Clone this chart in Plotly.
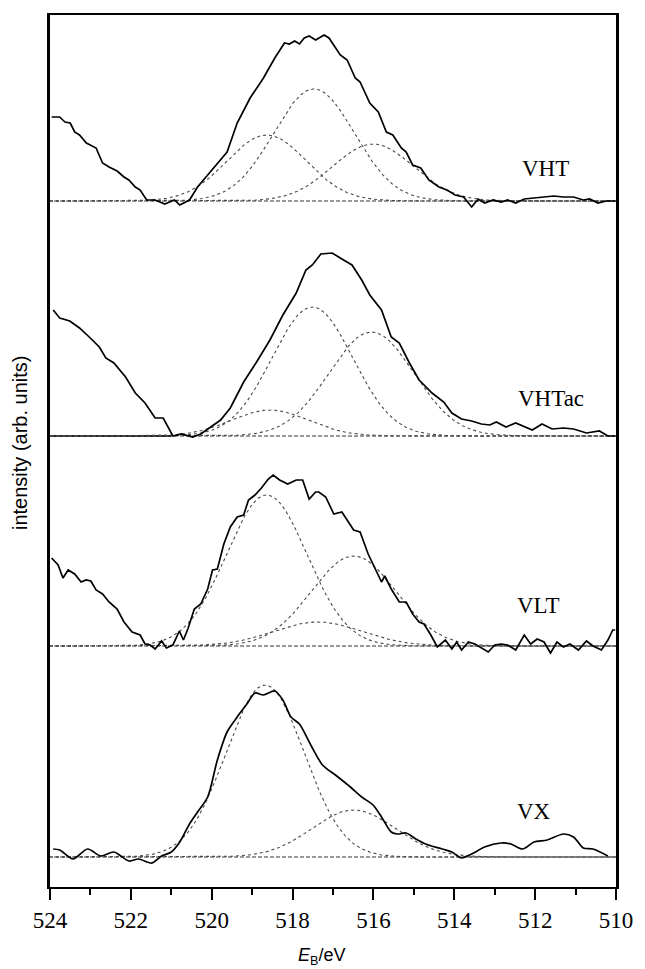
import numpy as np
import plotly.graph_objects as go

# ---------------- measured spectra (binding energy / eV, intensity above baseline, arb. units)
vht_E = [523.96, 523.76, 523.63, 523.50, 523.39, 523.27, 523.10, 522.86, 522.70, 522.54,
         522.34, 522.17, 522.05, 521.89, 521.77, 521.61, 521.40, 521.16, 520.92, 520.79,
         520.55, 520.35, 520.10, 519.86, 519.62, 519.37, 519.05, 518.72, 518.44, 518.20,
         518.08, 517.95, 517.83, 517.71, 517.59, 517.43, 517.30, 517.22, 517.10, 516.98,
         516.82, 516.65, 516.45, 516.33, 516.09, 515.88, 515.68, 515.52, 515.31, 515.19,
         515.03, 514.83, 514.63, 514.38, 514.18, 513.98, 513.77, 513.57, 513.41, 513.25,
         513.04, 512.84, 512.68, 512.48, 512.27, 512.03, 511.78, 511.54, 511.30, 511.05,
         510.81, 510.65, 510.45, 510.24, 510.02]
vht_I = [84, 84, 79, 78, 69, 66, 58, 53, 38, 34,
         30, 24, 21, 14, 11, 1, 1, -3, 1, -4,
         1, 14, 26, 38, 49, 78, 103, 123, 143, 158,
         157, 160, 157, 163, 165, 161, 164, 166, 163, 156,
         146, 141, 123, 119, 98, 89, 69, 66, 53, 49,
         36, 33, 21, 14, 11, 6, 4, -6, 2, -2,
         1, -1, 1, -2, 2, 3, 4, 5, 4, 4,
         1, 2, -2, 0, 0]

vhtac_E = [523.92, 523.76, 523.51, 523.27, 523.03, 522.78, 522.62, 522.42, 522.13, 521.89,
           521.65, 521.40, 521.20, 521.08, 520.96, 520.75, 520.47, 520.27, 520.02, 519.78,
           519.54, 519.21, 518.89, 518.56, 518.24, 517.91, 517.67, 517.51, 517.30, 517.02,
           516.78, 516.53, 516.29, 516.09, 515.80, 515.56, 515.36, 515.11, 514.87, 514.55,
           514.26, 514.06, 513.82, 513.57, 513.33, 513.12, 512.96, 512.72, 512.48, 512.27,
           512.07, 511.83, 511.58, 511.30, 511.05, 510.73, 510.41, 510.20, 510.02]
vhtac_I = [126, 118, 115, 108, 99, 89, 78, 73, 59, 43,
           33, 18, 18, 9, 0, 2, -1, 2, 9, 16,
           28, 54, 74, 96, 121, 143, 166, 171, 182, 183,
           177, 171, 156, 141, 126, 99, 93, 73, 56, 43,
           34, 23, 17, 15, 12, 11, 14, 9, 13, 9,
           6, 12, 7, 8, 7, 3, 5, 0, 0]

vlt_E = [523.96, 523.80, 523.68, 523.55, 523.39, 523.23, 523.11, 522.99, 522.86, 522.70,
         522.54, 522.34, 522.17, 521.97, 521.77, 521.65, 521.52, 521.40, 521.24, 521.12,
         520.96, 520.80, 520.70, 520.59, 520.43, 520.27, 520.10, 519.98, 519.86, 519.70,
         519.54, 519.37, 519.21, 519.09, 518.93, 518.77, 518.60, 518.48, 518.32, 518.12,
         517.91, 517.75, 517.59, 517.43, 517.35, 517.18, 516.98, 516.78, 516.49, 516.33,
         516.13, 515.92, 515.80, 515.72, 515.56, 515.36, 515.19, 515.03, 514.87, 514.75,
         514.58, 514.42, 514.22, 514.06, 513.94, 513.82, 513.65, 513.49, 513.37, 513.16,
         513.00, 512.84, 512.68, 512.48, 512.27, 512.11, 511.95, 511.78, 511.62, 511.46,
         511.30, 511.14, 510.93, 510.73, 510.57, 510.36, 510.20, 510.08, 510.02]
vlt_I = [88, 81, 68, 76, 72, 64, 66, 65, 56, 52,
         44, 37, 24, 14, 11, 2, 1, -3, 5, -2,
         1, 15, 6, 17, 37, 42, 57, 76, 77, 102,
         119, 129, 131, 146, 151, 158, 167, 171, 166, 162,
         166, 166, 147, 154, 154, 149, 132, 134, 116, 114,
         92, 74, 64, 70, 57, 44, 44, 32, 24, 22,
         11, -1, 6, -3, 4, -4, 4, 2, -1, -6,
         1, 2, 1, -4, 11, 2, 7, 4, -7, 4,
         -1, 2, -4, 5, 0, -4, 6, 16, 16]

vx_E = [523.92, 523.76, 523.43, 523.07, 522.74, 522.42, 522.05, 521.81, 521.48, 521.24,
        521.00, 520.79, 520.55, 520.35, 520.10, 519.86, 519.62, 519.37, 519.13, 518.93,
        518.72, 518.44, 518.24, 518.04, 517.83, 517.55, 517.26, 516.94, 516.57, 516.29,
        516.01, 515.80, 515.56, 515.40, 515.19, 514.95, 514.71, 514.30, 514.06, 513.82,
        513.57, 513.25, 512.84, 512.60, 512.31, 512.03, 511.70, 511.30, 511.05, 510.81,
        510.57, 510.20]
vx_I = [8, 7, -2, 8, 1, 5, -4, -2, -6, 1,
        5, 15, 33, 45, 60, 97, 125, 140, 153, 164,
        162, 166, 157, 140, 133, 112, 92, 82, 70, 60,
        52, 40, 25, 23, 24, 18, 13, 8, 5, -1,
        3, 10, 14, 13, 8, 15, 17, 23, 20, 9,
        8, 1]

# ---------------- fitted Gaussian components: centre / eV, height, FWHM / eV
vht_centres = [518.64, 517.47, 516.01]
vht_heights = [66, 112, 57]
vht_fwhm = [2.31, 2.35, 2.35]

vhtac_centres = [518.56, 517.51, 516.05]
vhtac_heights = [26, 129, 104]
vhtac_fwhm = [2.24, 2.35, 2.47]

vlt_centres = [518.64, 517.38, 516.49]
vlt_heights = [151, 24, 90]
vlt_fwhm = [2.35, 2.59, 2.47]

vx_centres = [518.68, 516.49]
vx_heights = [172, 47]
vx_fwhm = [2.28, 2.43]

sample_names = ["VHT", "VHTac", "VLT", "VX"]

# ---------------- stacking / layout
offsets = {"VHT": 686, "VHTac": 451, "VLT": 241, "VX": 30}
label_pos = {"VHT": (511.75, 33), "VHTac": (511.62, 38), "VLT": (511.91, 41), "VX": (512.04, 46)}

spectra = {
    "VHT": (vht_E, vht_I, vht_centres, vht_heights, vht_fwhm),
    "VHTac": (vhtac_E, vhtac_I, vhtac_centres, vhtac_heights, vhtac_fwhm),
    "VLT": (vlt_E, vlt_I, vlt_centres, vlt_heights, vlt_fwhm),
    "VX": (vx_E, vx_I, vx_centres, vx_heights, vx_fwhm),
}

SERIF = "Liberation Serif, Times New Roman, serif"
SANS = "Liberation Sans, Arial, sans-serif"

grid = np.linspace(524, 510, 701)


def gaussian(e, centre, height, fwhm):
    sigma = fwhm / 2.3548
    return height * np.exp(-0.5 * ((e - centre) / sigma) ** 2)


fig = go.Figure()

for name in sample_names:
    E, I, cs, hs, ws = spectra[name]
    off = offsets[name]

    # baseline
    fig.add_trace(go.Scatter(x=[523.9, 510], y=[off, off], mode="lines",
                             line=dict(color="#333333", width=1.1, dash="4px,2px"),
                             showlegend=False, hoverinfo="skip"))
    if name == "VHTac":
        fig.add_trace(go.Scatter(x=[524, 521.0], y=[off, off], mode="lines",
                                 line=dict(color="black", width=1.3),
                                 showlegend=False, hoverinfo="skip"))
    if name == "VX":
        fig.add_trace(go.Scatter(x=[513.85, 510.05], y=[off, off], mode="lines",
                                 line=dict(color="#9a9a9a", width=1.3),
                                 showlegend=False, hoverinfo="skip"))

    # fitted components
    for c, h, w in zip(cs, hs, ws):
        fig.add_trace(go.Scatter(x=grid, y=off + gaussian(grid, c, h, w), mode="lines",
                                 line=dict(color="#4a4a4a", width=1.1, dash="3px,3px"),
                                 showlegend=False, hoverinfo="skip"))

    # measured spectrum
    fig.add_trace(go.Scatter(x=E, y=[off + v for v in I], mode="lines",
                             line=dict(color="black", width=1.7,
                                       shape="spline" if name == "VX" else "linear",
                                       smoothing=0.8),
                             showlegend=False, name=name))

    lx, rise = label_pos[name]
    fig.add_annotation(x=lx, y=off + rise, xref="x", yref="y", text=name, showarrow=False,
                       font=dict(family=SERIF, size=23, color="black"),
                       xanchor="center", yanchor="middle")

# axis titles
fig.add_annotation(x=0, y=0.5, xref="paper", yref="paper", xshift=-30, yshift=8,
                   text="intensity (arb. units)", textangle=-90, showarrow=False,
                   font=dict(family=SANS, size=20, color="black"),
                   xanchor="center", yanchor="middle")
fig.add_annotation(x=0.48, y=0, xref="paper", yref="paper", yshift=-69,
                   text="<i>E</i><sub>B</sub>/eV", showarrow=False,
                   font=dict(family=SANS, size=18, color="black"),
                   xanchor="center", yanchor="middle")

fig.update_layout(
    width=645, height=969,
    margin=dict(l=50, r=20, t=15, b=82),
    paper_bgcolor="white", plot_bgcolor="white",
    showlegend=False,
    font=dict(family=SERIF, color="black"),
    xaxis=dict(range=[524, 510], tickmode="linear", tick0=510, dtick=2,
               ticks="outside", ticklen=11, tickwidth=2, tickcolor="black",
               minor=dict(dtick=1, ticks="outside", ticklen=6, tickwidth=2, tickcolor="black"),
               showline=True, linewidth=2, linecolor="black", mirror=True,
               showgrid=False, zeroline=False,
               tickfont=dict(family=SERIF, size=23, color="black")),
    yaxis=dict(range=[0, 872], showticklabels=False, ticks="",
               showline=True, linewidth=2.5, linecolor="black", mirror=True,
               showgrid=False, zeroline=False),
)

fig.write_html("out.html")
